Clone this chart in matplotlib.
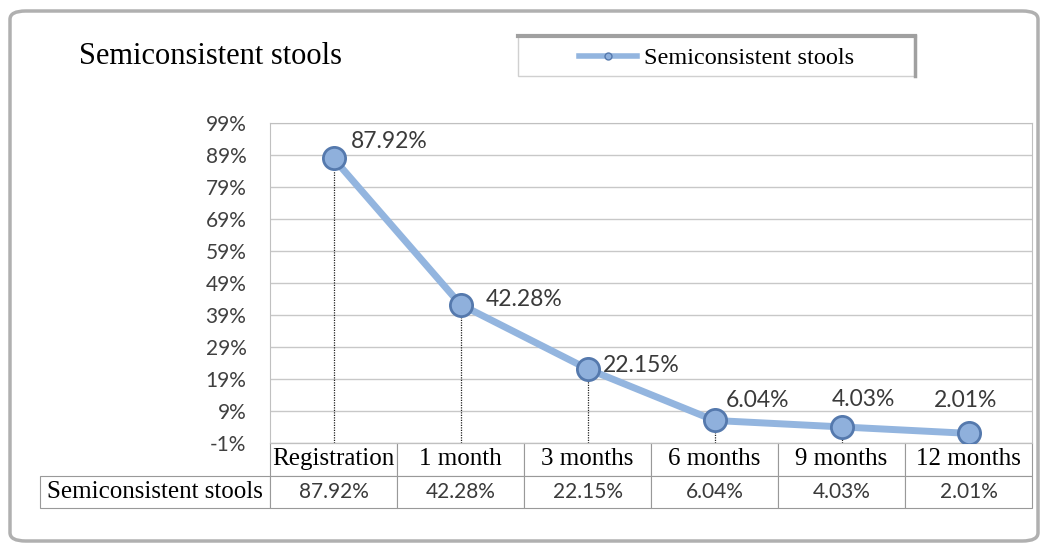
import matplotlib.pyplot as plt
from matplotlib.patches import FancyBboxPatch, Rectangle
from matplotlib.lines import Line2D

# data
categories = ["Registration", "1 month", "3 months", "6 months", "9 months", "12 months"]
values = [87.92, 42.28, 22.15, 6.04, 4.03, 2.01]
series_name = "Semiconsistent stools"
yticks = [-1, 9, 19, 29, 39, 49, 59, 69, 79, 89, 99]

# label offsets (pixels from marker to left/middle of text)
label_offsets = [(17, 17), (25, 5), (15, 3), (11, 20), (-10, 27), (-35, 33)]

W, H = 1045, 553
fig = plt.figure(figsize=(W / 100, H / 100), dpi=100)
fig.patch.set_facecolor("white")

# outer rounded frame
frame = FancyBboxPatch((10 / W, 12 / H), 1028 / W, 530 / H,
                       boxstyle="round,pad=0,rounding_size=0.015",
                       transform=fig.transFigure, facecolor="none",
                       edgecolor="#b0b0b0", linewidth=2.5, zorder=-5)
fig.patches.append(frame)

# legend box (with darker top edge like a shadow)
fig.patches.append(Rectangle((518 / W, 1 - 76 / H), 397 / W, 40 / H, transform=fig.transFigure,
                             facecolor="white", edgecolor="#d0d0d0", linewidth=1, zorder=-4))
fig.lines.append(Line2D([518 / W, 915 / W], [1 - 36 / H, 1 - 36 / H], transform=fig.transFigure,
                        color="#a0a0a0", linewidth=3))
fig.lines.append(Line2D([915 / W, 915 / W], [1 - 36 / H, 1 - 76 / H], transform=fig.transFigure,
                        color="#a0a0a0", linewidth=2.5))

# plot area in pixels: x 270..1032, y 123..443
ax = fig.add_axes([270 / W, (H - 443) / H, 762 / W, 320 / H])
x = list(range(len(categories)))
ax.set_xlim(-0.5, 5.5)
ax.set_ylim(-1, 99)
ax.set_yticks(yticks)
ax.set_yticklabels([f"{t}%" for t in yticks], fontfamily="Lato", fontsize=15, color="#404040")
ax.set_xticks([])
ax.tick_params(axis="y", length=0, pad=17)
ax.grid(axis="y", color="#c8c8c8", linewidth=1)
ax.set_axisbelow(True)
for s in ax.spines.values():
    s.set_color("#c0c0c0")

ax.vlines(x, -1, values, colors="#222222", linewidth=0.9, linestyles=(0, (1, 1)), zorder=2)
ax.plot(x, values, color="#93b5df", linewidth=5, zorder=3,
        marker="o", markersize=16, markerfacecolor="#8fb0dc",
        markeredgecolor="#5579ad", markeredgewidth=2)

for xi, v, (dx, dy) in zip(x, values, label_offsets):
    ax.annotate(f"{v:.2f}%", (xi, v), xytext=(dx * 0.72, dy * 0.72), textcoords="offset points",
                fontfamily="Lato", fontsize=16.5, color="#3a3a3a", va="center", ha="left")

# data table under the plot
cell_text = [[""] + categories, [series_name] + [f"{v:.2f}%" for v in values]]
tbl = ax.table(cellText=cell_text, colWidths=[230] + [127] * 6,
               bbox=[(40 - 270) / 762, -65 / 320, 992 / 762, 65 / 320], cellLoc="center")
tbl.auto_set_font_size(False)
for (r, c), cell in tbl.get_celld().items():
    cell.set_edgecolor("#999999")
    cell.set_linewidth(0.8)
    t = cell.get_text()
    if r == 0 or c == 0:
        t.set_fontfamily("Liberation Serif")
        t.set_fontsize(18)
    else:
        t.set_fontfamily("Lato")
        t.set_fontsize(15)
        t.set_color("#3a3a3a")
tbl[0, 0].visible_edges = ""

# title
fig.text(79 / W, 1 - 57 / H, series_name, fontfamily="Liberation Serif",
         fontsize=22, va="center", ha="left")

# legend
handle = Line2D([], [], color="#93b5df", linewidth=4, marker="o", markersize=5,
                markerfacecolor="#8fb0dc", markeredgecolor="#5579ad")
leg = fig.legend([handle], [series_name], loc="center left",
                 bbox_to_anchor=(557 / W, 1 - 58 / H), frameon=False,
                 prop={"family": "Liberation Serif", "size": 17.5},
                 handlelength=2.4, handletextpad=0.3)

fig.savefig("out.png", dpi=100)
